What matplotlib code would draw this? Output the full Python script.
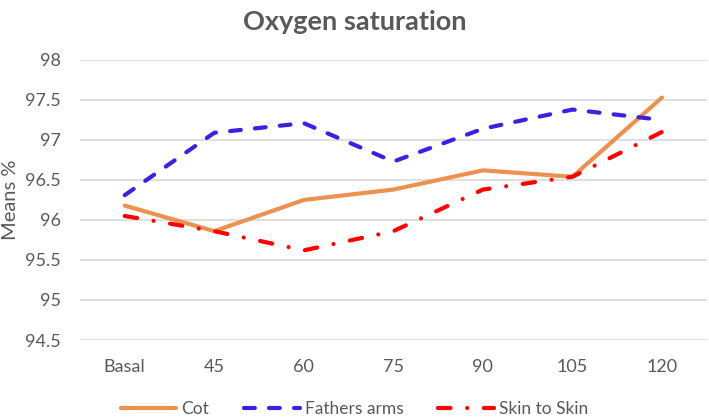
import matplotlib
matplotlib.use("Agg")
import matplotlib.pyplot as plt

categories = ["Basal", "45", "60", "75", "90", "105", "120"]
cot = [96.18, 95.86, 96.25, 96.38, 96.62, 96.54, 97.53]
fathers_arms = [96.31, 97.09, 97.21, 96.73, 97.14, 97.38, 97.25]
skin_to_skin = [96.05, 95.86, 95.62, 95.86, 96.38, 96.54, 97.10]
y_ticks = [94.5, 95, 95.5, 96, 96.5, 97, 97.5, 98]

plt.rcParams['font.family'] = ['Lato', 'DejaVu Sans']

fig = plt.figure(figsize=(7.09, 4.18), dpi=100)
ax = fig.add_axes([0.1128, 0.1866, 0.884, 0.67])

x = list(range(len(categories)))
lw = 3.0
ax.plot(x, cot, color="#ED9150", lw=lw, solid_capstyle="round", solid_joinstyle="round", label="Cot")
ax.plot(x, fathers_arms, color="#3A22E0", lw=lw, linestyle=(0, (2.6, 3.4)),
        dash_capstyle="round", label="Fathers arms")
ax.plot(x, skin_to_skin, color="#FF0000", lw=lw, linestyle=(0, (3.0, 4.0, 0.01, 4.0)),
        dash_capstyle="round", label="Skin to Skin")

ax.set_xlim(-0.5, len(categories) - 0.5)
ax.set_ylim(94.5, 98)
ax.set_yticks(y_ticks)
ax.set_yticklabels([f"{v:g}" for v in y_ticks])
ax.set_xticks(x)
ax.set_xticklabels(categories)
ax.yaxis.grid(True, color="#D9D9D9", lw=1.2)
ax.set_axisbelow(True)
for s in ax.spines.values():
    s.set_visible(False)
ax.tick_params(length=0, colors="#595959", labelsize=13)
ax.tick_params(axis="x", pad=14)
ax.tick_params(axis="y", pad=14)

ax.set_ylabel("Means %", color="#595959", fontsize=14.5, labelpad=4)
fig.suptitle("Oxygen saturation", x=0.5, y=0.975, fontsize=19.5, fontweight="bold", color="#595959")

leg = fig.legend(loc="lower center", bbox_to_anchor=(0.5, -0.035), ncol=3, frameon=False,
                 fontsize=12.5, handlelength=3.2, columnspacing=2.0, handletextpad=0.3)
for t in leg.get_texts():
    t.set_color("#595959")

fig.savefig("out.png", dpi=100)
